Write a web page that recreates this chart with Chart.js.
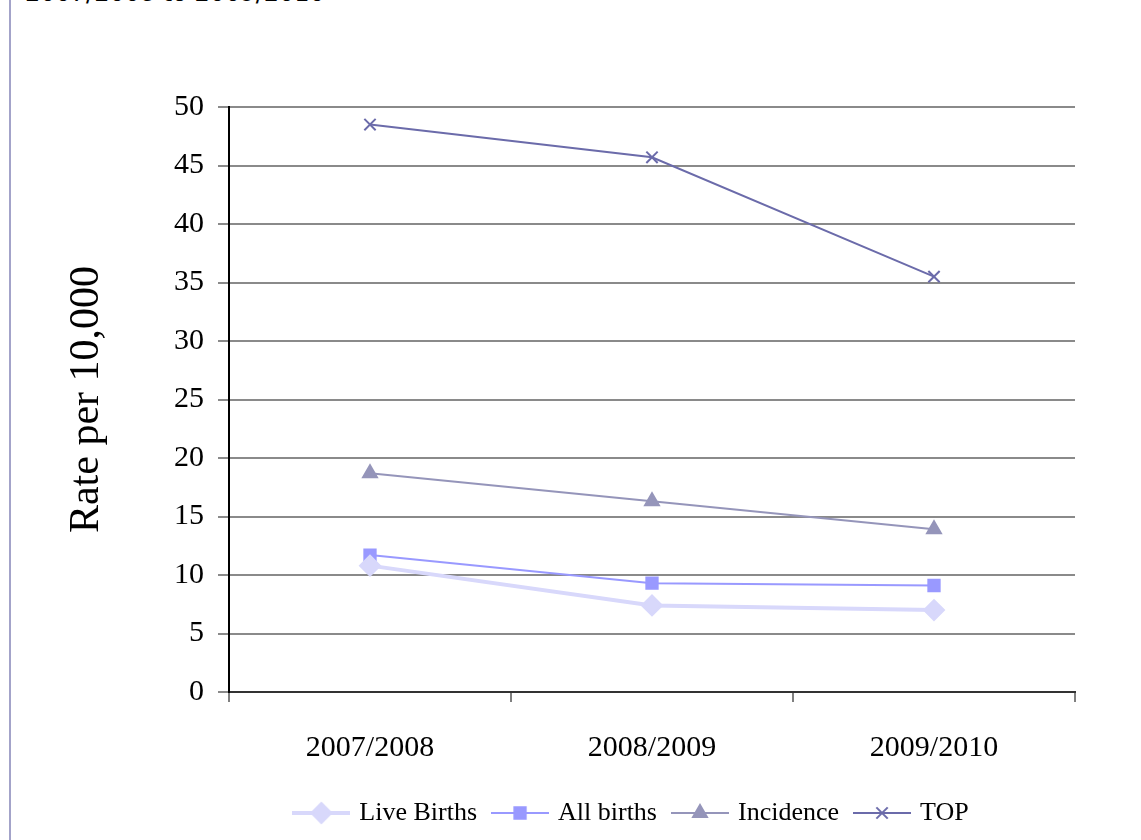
<!DOCTYPE html>
<html>
<head>
<meta charset="utf-8">
<script src="https://cdn.jsdelivr.net/npm/chart.js@4"></script>
<style>
  html, body { margin: 0; padding: 0; background: #fff; }
  #wrap { position: relative; width: 1141px; height: 840px; overflow: hidden; }
  #bord { position: absolute; left: 9px; top: 0; width: 2px; height: 840px; background: #a3a3c9; }
  #sub { position: absolute; left: 25px; top: -21px; font: 24px 'DejaVu Sans', sans-serif; color: #000; white-space: nowrap; }
  canvas { position: absolute; left: 0; top: 0; }
</style>
</head>
<body>
<div id="wrap">
  <div id="bord"></div>
  <div id="sub">2007/2008 to 2009/2010</div>
  <canvas id="grafico" width="1141" height="840"></canvas>
</div>
<script>
const periodos = ['2007/2008', '2008/2009', '2009/2010'];
const liveBirths = [10.8, 7.4, 7.0];
const allBirths = [11.7, 9.3, 9.1];
const incidence = [18.7, 16.3, 13.9];
const top_ = [48.5, 45.7, 35.5];

const FUENTE = "'Liberation Serif', serif";

const series = [
	{ label: 'Live Births', data: liveBirths, color: '#d8d8fb', width: 4, style: 'rectRot', r: 10 },
	{ label: 'All births', data: allBirths, color: '#9999ff', width: 2, style: 'rect', r: 8 },
	{ label: 'Incidence', data: incidence, color: '#9595ba', width: 2, style: 'triangle', r: 8 },
	{ label: 'TOP', data: top_, color: '#6b6baa', width: 2, style: 'crossRot', r: 8 }
];

// icono de leyenda: linea + marcador
const iconos = series.map((s) => {
	const c = document.createElement('canvas');
	c.width = 58;
	c.height = 24;
	const g = c.getContext('2d');
	g.strokeStyle = s.color;
	g.fillStyle = s.color;
	g.lineWidth = s.width;
	g.beginPath();
	g.moveTo(0, 12);
	g.lineTo(58, 12);
	g.stroke();
	g.lineWidth = 2;
	Chart.helpers.drawPoint(g, { pointStyle: s.style, radius: s.r, borderWidth: 2 }, 29, 12);
	return c;
});

// la leyenda del original no esta centrada en el lienzo
const moverLeyenda = {
	id: 'moverLeyenda',
	afterLayout: (chart) => {
		chart.legend.left += 95;
		chart.legend.right += 95;
	}
};

const ctx = document.getElementById('grafico').getContext('2d');

new Chart(ctx, {
	type: 'line',
	data: {
		labels: periodos,
		datasets: series.map((s) => ({
			label: s.label,
			data: s.data,
			borderColor: s.color,
			backgroundColor: s.color,
			borderWidth: s.width,
			pointStyle: s.style,
			pointRadius: s.r,
			pointBorderWidth: 2,
			pointBorderColor: s.color,
			pointBackgroundColor: s.color,
			tension: 0
		}))
	},
	plugins: [moverLeyenda],
	options: {
		responsive: false,
		animation: false,
		layout: { padding: { top: 107, right: 66, bottom: 4, left: 0 } },
		plugins: {
			tooltip: { enabled: false },
			legend: {
				position: 'bottom',
				labels: {
					usePointStyle: true,
					pointStyleWidth: 50,
					padding: 18,
					color: '#000',
					font: { family: FUENTE, size: 26 },
					generateLabels: (chart) => chart.data.datasets.map((d, i) => ({
						text: d.label,
						pointStyle: iconos[i],
						fillStyle: 'transparent',
						strokeStyle: 'transparent',
						lineWidth: 0,
						fontColor: '#000',
						datasetIndex: i
					}))
				}
			}
		},
		scales: {
			x: {
				offset: true,
				afterFit: (scale) => { scale.height = 90; },
				grid: {
					offset: true,
					drawOnChartArea: true,
					color: (c) => (c.index === 3 ? '#8a8a8a' : 'rgba(0,0,0,0)'),
					lineWidth: 2,
					tickColor: '#000',
					tickLength: 10,
					tickWidth: 1
				},
				border: { color: '#333', width: 2 },
				ticks: { color: '#000', padding: 28, font: { family: FUENTE, size: 30 } }
			},
			y: {
				min: 0,
				max: 50,
				afterFit: (scale) => { scale.width = 229; },
				ticks: { stepSize: 5, color: '#000', padding: 14, font: { family: FUENTE, size: 30 } },
				grid: { color: '#8a8a8a', lineWidth: 2, tickLength: 11 },
				border: { color: '#000', width: 2 },
				title: {
					display: true,
					text: 'Rate per 10,000',
					color: '#000',
					font: { family: FUENTE, size: 42 },
					padding: { top: 62, bottom: 0 }
				}
			}
		}
	}
});
</script>
</body>
</html>
